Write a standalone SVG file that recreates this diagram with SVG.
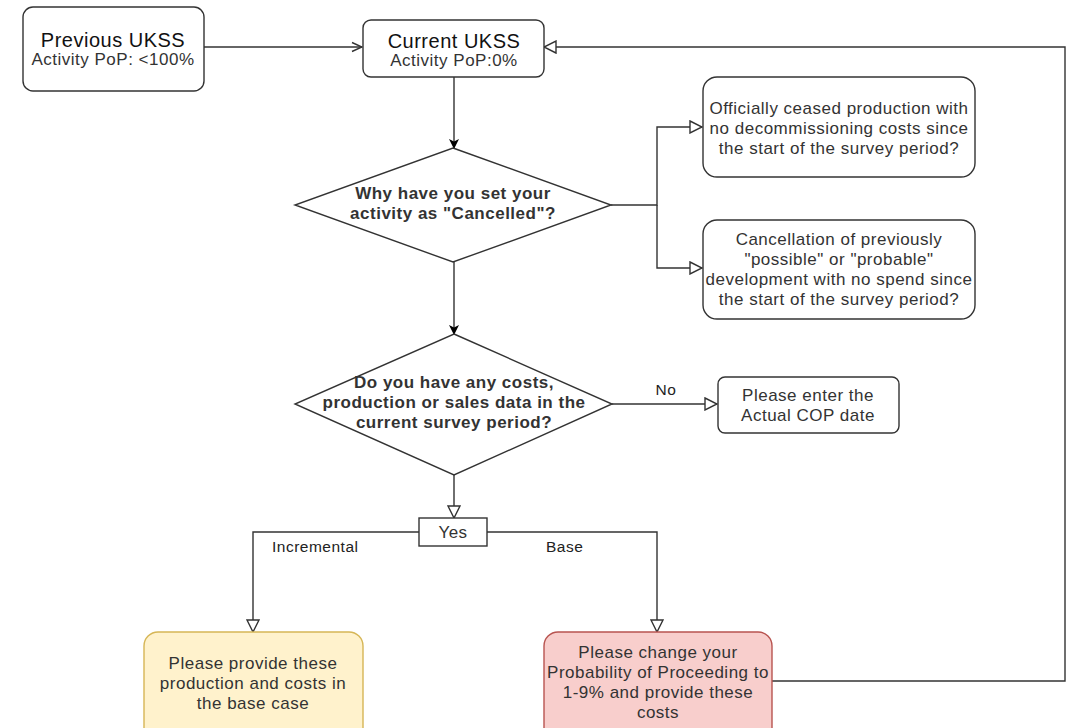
<svg xmlns="http://www.w3.org/2000/svg" width="1073" height="728" viewBox="0 0 1073 728">
<style>
.box{fill:#fff;stroke:#333;stroke-width:1.4}
.yel{fill:#fff2cc;stroke:#d6b656;stroke-width:1.4}
.red{fill:#f8cecc;stroke:#b85450;stroke-width:1.4}
.t{font-family:"Liberation Sans",Arial,sans-serif;font-size:17px;letter-spacing:0.5px;fill:#333;text-anchor:middle}
.b{font-weight:bold;font-size:17px}
.big{font-size:20px;fill:#111}
.lbl{font-family:"Liberation Sans",Arial,sans-serif;font-size:15.5px;letter-spacing:0.5px;fill:#222}
.c{fill:none;stroke:#333;stroke-width:1.4}
</style>
<defs>
<marker id="filled" viewBox="0 0 10 10" refX="9" refY="5" markerWidth="10" markerHeight="10" markerUnits="userSpaceOnUse" orient="auto">
<path d="M0,0 L10,5 L0,10 L2.5,5 Z" fill="#000"/>
</marker>
<marker id="tri" viewBox="0 0 14 14" refX="13" refY="7" markerWidth="14" markerHeight="14" markerUnits="userSpaceOnUse" orient="auto">
<path d="M1,1 L13,7 L1,13 Z" fill="#fff" stroke="#333" stroke-width="1.4"/>
</marker>
<marker id="open" viewBox="0 0 12 12" refX="11" refY="6" markerWidth="12" markerHeight="12" markerUnits="userSpaceOnUse" orient="auto">
<path d="M1,1.5 L11,6 L1,10.5" fill="none" stroke="#333" stroke-width="1.4"/>
</marker>
</defs>

<g id="connectors">
<path class="c" d="M204,47 L362,47" marker-end="url(#open)"/>
<path class="c" d="M454,77 L454,148" marker-end="url(#filled)"/>
<path class="c" d="M611,205 L657,205 L657,127 L702,127" marker-end="url(#tri)"/>
<path class="c" d="M657,205 L657,268 L702,268" marker-end="url(#tri)"/>
<path class="c" d="M454,262 L454,334" marker-end="url(#filled)"/>
<path class="c" d="M612,404 L717,404" marker-end="url(#tri)"/>
<text class="lbl" x="666" y="395" text-anchor="middle">No</text>
<path class="c" d="M454,475 L454,518" marker-end="url(#tri)"/>
<path class="c" d="M419,532 L253,532 L253,632" marker-end="url(#tri)"/>
<text class="lbl" x="272" y="552">Incremental</text>
<path class="c" d="M487,532 L657,532 L657,632" marker-end="url(#tri)"/>
<text class="lbl" x="546" y="552">Base</text>
<path class="c" d="M772,681 L1065,681 L1065,47 L544,47" marker-end="url(#tri)"/>
</g>

<g id="previous">
<rect class="box" x="23" y="7" width="181" height="84" rx="10"/>
<text class="t big" x="113" y="47">Previous UKSS</text>
<text class="t" x="113" y="65">Activity PoP: &lt;100%</text>
</g>

<g id="current">
<rect class="box" x="363" y="20" width="181" height="57" rx="8"/>
<text class="t big" x="454" y="48">Current UKSS</text>
<text class="t" x="454" y="66">Activity PoP:0%</text>
</g>

<g id="why">
<polygon class="box" points="453,148 611,205 453,262 295,205"/>
<text class="t b" x="453" y="199">Why have you set your</text>
<text class="t b" x="453" y="219">activity as "Cancelled"?</text>
</g>

<g id="ceased">
<rect class="box" x="703" y="77" width="272" height="100" rx="14"/>
<text class="t" x="839" y="114">Officially ceased production with</text>
<text class="t" x="839" y="134">no decommissioning costs since</text>
<text class="t" x="839" y="154">the start of the survey period?</text>
</g>

<g id="cancellation">
<rect class="box" x="703" y="220" width="272" height="99" rx="14"/>
<text class="t" x="839" y="245">Cancellation of previously</text>
<text class="t" x="839" y="265">"possible" or "probable"</text>
<text class="t" x="839" y="285">development with no spend since</text>
<text class="t" x="839" y="305">the start of the survey period?</text>
</g>

<g id="costs">
<polygon class="box" points="454,334 612,404 454,475 295,404"/>
<text class="t b" x="454" y="388">Do you have any costs,</text>
<text class="t b" x="454" y="408">production or sales data in the</text>
<text class="t b" x="454" y="428">current survey period?</text>
</g>

<g id="cop">
<rect class="box" x="718" y="377" width="181" height="56" rx="7"/>
<text class="t" x="808" y="401">Please enter the</text>
<text class="t" x="808" y="421">Actual COP date</text>
</g>

<g id="yes">
<rect class="box" x="419" y="518" width="68" height="28"/>
<text class="t" x="453" y="538">Yes</text>
</g>

<g id="incremental">
<rect class="yel" x="144" y="632" width="219" height="110" rx="14"/>
<text class="t" x="253" y="669">Please provide these</text>
<text class="t" x="253" y="689">production and costs in</text>
<text class="t" x="253" y="709">the base case</text>
</g>

<g id="base">
<rect class="red" x="544" y="632" width="228" height="110" rx="14"/>
<text class="t" x="658" y="658">Please change your</text>
<text class="t" x="658" y="678">Probability of Proceeding to</text>
<text class="t" x="658" y="698">1-9% and provide these</text>
<text class="t" x="658" y="718">costs</text>
</g>
</svg>
